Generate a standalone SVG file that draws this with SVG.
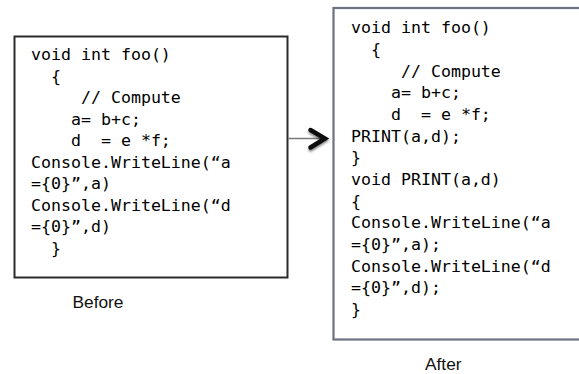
<svg xmlns="http://www.w3.org/2000/svg" width="579" height="374" viewBox="0 0 579 374">
  <style>
    .code { font-family: "DejaVu Sans Mono", "Liberation Mono", monospace; font-size: 16.6px; fill: #000; white-space: pre; }
    .label { font-family: "Liberation Sans", Arial, sans-serif; font-size: 16px; fill: #111; }
  </style>
  <defs>
    <filter id="soft" x="-50%" y="-50%" width="200%" height="200%">
      <feGaussianBlur in="SourceAlpha" stdDeviation="1.2"/>
      <feOffset dx="0" dy="1.5" result="b"/>
      <feComponentTransfer><feFuncA type="linear" slope="0.45"/></feComponentTransfer>
      <feMerge><feMergeNode/><feMergeNode in="SourceGraphic"/></feMerge>
    </filter>
  </defs>
  <rect width="579" height="374" fill="#fff"/>

  <!-- original function -->
  <g id="before">
    <rect x="14.5" y="36.5" width="273" height="241" fill="#fff" stroke="#2a2a2a" stroke-width="2"/>
    <text class="code" x="31" y="60" xml:space="preserve">void int foo()</text>
    <text class="code" x="31" y="81.5" xml:space="preserve">  {</text>
    <text class="code" x="31" y="103" xml:space="preserve">     // Compute</text>
    <text class="code" x="31" y="124.5" xml:space="preserve">    a= b+c;</text>
    <text class="code" x="31" y="146" xml:space="preserve">    d  = e *f;</text>
    <text class="code" x="31" y="167.5" xml:space="preserve">Console.WriteLine(“a</text>
    <text class="code" x="31" y="189" xml:space="preserve">={0}”,a)</text>
    <text class="code" x="31" y="210.5" xml:space="preserve">Console.WriteLine(“d</text>
    <text class="code" x="31" y="232" xml:space="preserve">={0}”,d)</text>
    <text class="code" x="31" y="253.5" xml:space="preserve">  }</text>
    <text class="label" x="72.5" y="307.5" textLength="51" lengthAdjust="spacingAndGlyphs">Before</text>
  </g>

  <!-- refactored function -->
  <g id="after">
    <rect x="333.5" y="8" width="260" height="331.5" fill="#fff" stroke="#6b7380" stroke-width="2.2"/>
    <text class="code" x="351" y="33.3" xml:space="preserve">void int foo()</text>
    <text class="code" x="351" y="55" xml:space="preserve">  {</text>
    <text class="code" x="351" y="76.6" xml:space="preserve">     // Compute</text>
    <text class="code" x="351" y="98.3" xml:space="preserve">    a= b+c;</text>
    <text class="code" x="351" y="120" xml:space="preserve">    d  = e *f;</text>
    <text class="code" x="351" y="141.6" xml:space="preserve">PRINT(a,d);</text>
    <text class="code" x="351" y="163.3" xml:space="preserve">}</text>
    <text class="code" x="351" y="185" xml:space="preserve">void PRINT(a,d)</text>
    <text class="code" x="351" y="206.6" xml:space="preserve">{</text>
    <text class="code" x="351" y="228.3" xml:space="preserve">Console.WriteLine(“a</text>
    <text class="code" x="351" y="250" xml:space="preserve">={0}”,a);</text>
    <text class="code" x="351" y="271.6" xml:space="preserve">Console.WriteLine(“d</text>
    <text class="code" x="351" y="293.3" xml:space="preserve">={0}”,d);</text>
    <text class="code" x="351" y="315" xml:space="preserve">}</text>
    <text class="label" x="425" y="370" textLength="36.5" lengthAdjust="spacingAndGlyphs">After</text>
  </g>

  <!-- transformation arrow -->
  <g id="connectors">
    <line x1="288" y1="138.5" x2="322" y2="138.5" stroke="#7a7a7a" stroke-width="1.5"/>
    <polyline points="310.5,130 325,138.5 310.5,147.5" fill="none" stroke="#111" stroke-width="4.5" stroke-linecap="round" stroke-linejoin="miter" filter="url(#soft)"/>
  </g>
</svg>
